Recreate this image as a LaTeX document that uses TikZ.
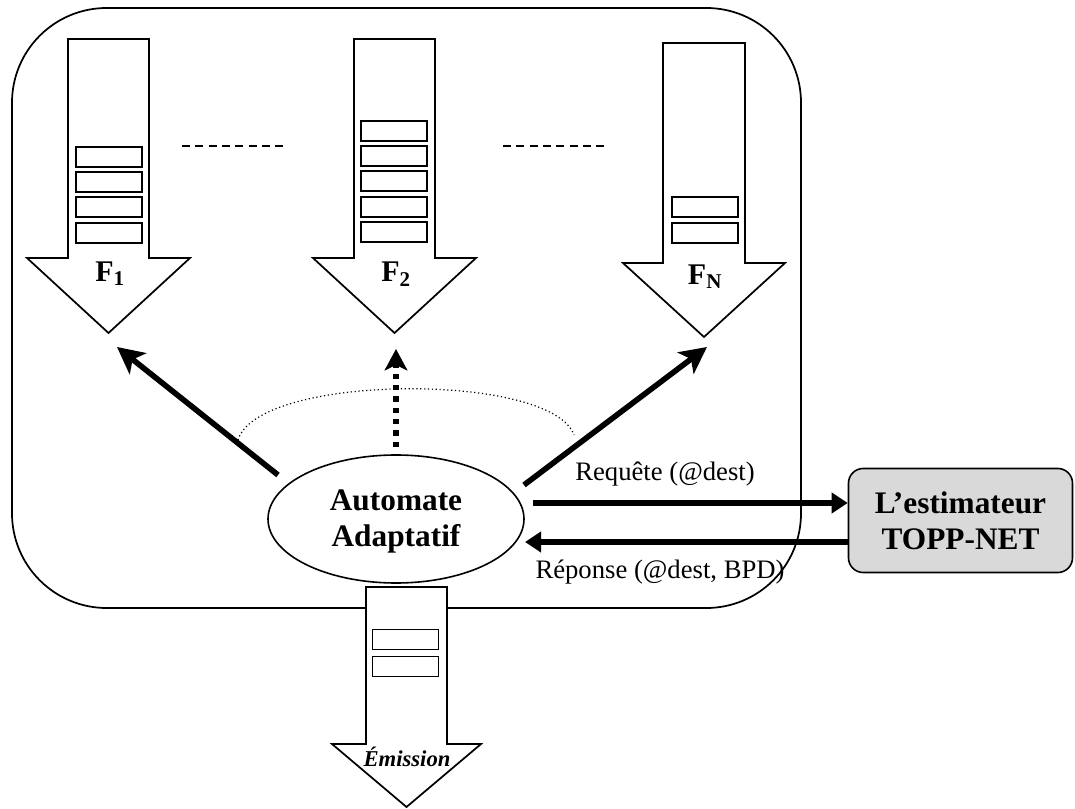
\documentclass[tikz,border=0pt]{standalone}
\usepackage{fontspec}
\setmainfont{Liberation Serif}
\usetikzlibrary{arrows.meta,shapes.geometric}
\begin{document}
\begin{tikzpicture}[x=0.75pt,y=-0.75pt,
  outerbox/.style={draw, line width=1.3pt, rounded corners=71pt},
  blockarrow/.style={draw, fill=white, line width=1.3pt, line join=miter},
  qbox/.style={draw, line width=1.3pt, minimum width=49.5pt, minimum height=15pt, inner sep=0pt},
  sepdash/.style={line width=1pt, dash pattern=on 6pt off 4pt},
  flabel/.style={font=\bfseries\fontsize{22.5}{25}\selectfont, inner sep=0pt},
  boldtext/.style={font=\bfseries\fontsize{23.5}{27}\selectfont, align=center, inner sep=0pt},
  edgelabel/.style={font=\fontsize{20}{24}\selectfont, inner sep=0pt},
  automaton/.style={draw, ellipse, line width=1.2pt, minimum width=192pt, minimum height=96pt, inner sep=0pt},
  estbox/.style={draw, fill=gray!30, line width=1.2pt, rounded corners=11pt, minimum width=168pt, minimum height=78pt, inner sep=0pt},
  diagarrow/.style={line width=4.2pt, -{Stealth[length=20pt,width=20pt,inset=5pt]}},
  dotarrow/.style={line width=4.2pt, dash pattern=on 4pt off 4.5pt, -{Stealth[length=16pt,width=17pt,inset=4pt]}},
  horarrow/.style={line width=4.2pt, -{Triangle[length=12pt,width=15pt]}},
  arcdots/.style={line width=0.9pt, dash pattern=on 0.9pt off 2pt}
]
\useasboundingbox (0,0) rectangle (1075,809);

% outer frame
\draw[outerbox] (12,8) rectangle (801,608);

% queue F1
\draw[blockarrow] (68,39) -- (149,39) -- (149,258) -- (190,258) -- (108.5,333) -- (27,258) -- (68,258) -- cycle;
\node[qbox] (f1a) at (109,157) {};
\node[qbox] (f1b) at (109,182) {};
\node[qbox] (f1c) at (109,207) {};
\node[qbox] (f1d) at (109,233) {};
\node[flabel] (f1lab) at (110,274) {F\textsubscript{1}};

% queue F2
\draw[blockarrow] (354,39) -- (435,39) -- (435,258) -- (476,258) -- (394.5,333) -- (313,258) -- (354,258) -- cycle;
\node[qbox] (f2a) at (394,131) {};
\node[qbox] (f2b) at (394,156) {};
\node[qbox] (f2c) at (394,181) {};
\node[qbox] (f2d) at (394,207) {};
\node[qbox] (f2e) at (394,232) {};
\node[flabel] (f2lab) at (396,274) {F\textsubscript{2}};

% queue FN
\draw[blockarrow] (663,43) -- (745,43) -- (745,263) -- (785,263) -- (704,337) -- (623,263) -- (663,263) -- cycle;
\node[qbox] (fna) at (705,207) {};
\node[qbox] (fnb) at (705,233) {};
\node[flabel] (fnlab) at (705,277) {F\textsubscript{N}};

% separators
\coordinate (d1s) at (182,146); \coordinate (d1e) at (288,146);
\coordinate (d2s) at (503,146); \coordinate (d2e) at (608,146);
\draw[sepdash] (d1s) -- (d1e);
\draw[sepdash] (d2s) -- (d2e);

% automaton
\node[automaton] (auto) at (396,519) {};
\node[boldtext] (autotext) at (396,521) {Automate\\Adaptatif};

% dotted arc
\coordinate (arcl) at (238,440);
\coordinate (arcr) at (574,435);
\draw[arcdots] (arcl) .. controls (258,373) and (552,372) .. (arcr);

% arrows from automaton to queues
\coordinate (a1s) at (278,475); \coordinate (a1e) at (117,347);
\coordinate (a2s) at (396,447); \coordinate (a2e) at (396,349);
\coordinate (a3s) at (524,485); \coordinate (a3e) at (707,347);
\draw[diagarrow] (a1s) -- (a1e);
\draw[dotarrow] (a2s) -- (a2e);
\draw[diagarrow] (a3s) -- (a3e);

% emission queue
\draw[blockarrow] (366,587) -- (447,587) -- (447,744) -- (481,744) -- (406.5,807) -- (332,744) -- (366,744) -- cycle;
\node[qbox] (ema) at (405.5,639.5) {};
\node[qbox] (emb) at (405.5,666.5) {};
\node[font=\bfseries\itshape\fontsize{17}{19}\selectfont, inner sep=0pt] (emlab) at (407,757) {Émission};

% estimator
\node[estbox, boldtext] (est) at (960.5,520.5) {L’estimateur\\TOPP-NET};

% request / response
\coordinate (reqs) at (533,503);
\coordinate (resp) at (525,542);
\draw[horarrow] (reqs) -- (reqs -| est.west);
\draw[horarrow] (resp -| est.west) -- (resp);
\node[edgelabel] (reqlab) at (665,474) {Requête (@dest)};
\node[edgelabel] (replab) at (660,572) {Réponse (@dest, BPD)};
\end{tikzpicture}
\end{document}
